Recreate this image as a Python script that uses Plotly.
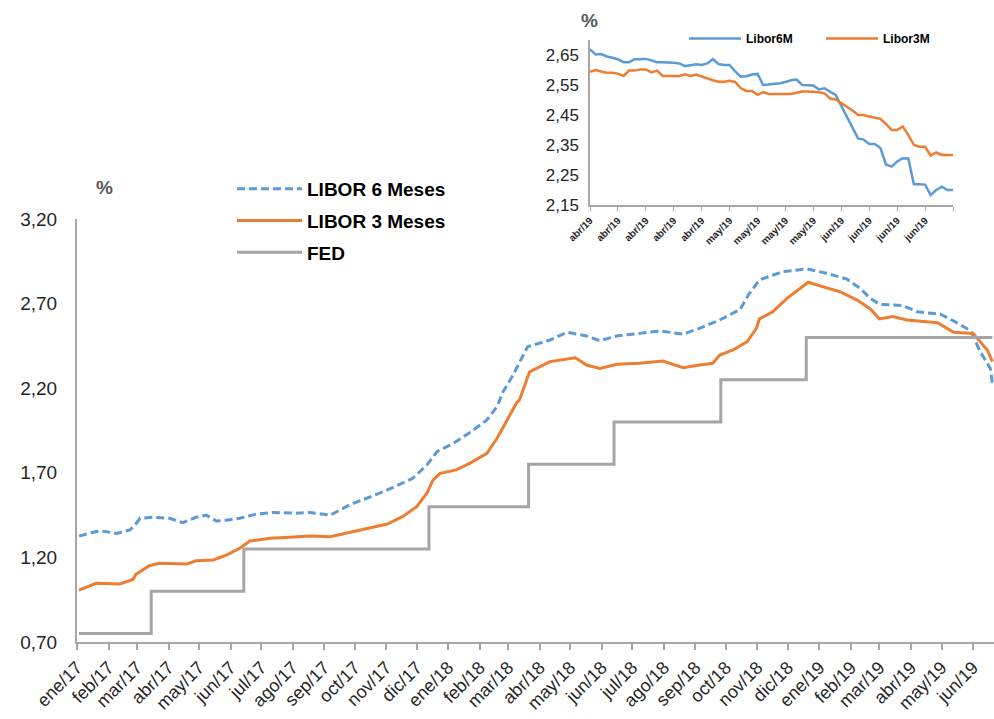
import plotly.graph_objects as go

# ---------------- main chart data ----------------
libor6_dates = ["2017-01-03","2017-01-23","2017-02-09","2017-02-22","2017-02-27","2017-03-04","2017-03-16",
    "2017-04-02","2017-04-15","2017-04-28","2017-05-08","2017-05-18","2017-05-28","2017-06-10","2017-06-26",
    "2017-07-13","2017-08-05","2017-08-18","2017-09-07","2017-09-26","2017-10-29","2017-11-27","2017-12-11",
    "2017-12-21","2018-01-06","2018-01-22","2018-02-08","2018-02-18","2018-02-24","2018-03-05","2018-03-20",
    "2018-04-11","2018-04-28","2018-05-17","2018-05-30","2018-06-16","2018-07-08","2018-07-28","2018-08-20",
    "2018-09-05","2018-09-25","2018-10-15","2018-10-23","2018-11-03","2018-11-26","2018-12-20","2019-01-08",
    "2019-01-28","2019-02-10","2019-02-20","2019-03-01","2019-03-24","2019-04-07","2019-04-30","2019-05-17",
    "2019-05-30","2019-06-08","2019-06-18","2019-06-20"]
libor6_values = [1.326,1.358,1.342,1.362,1.391,1.431,1.437,
    1.431,1.405,1.437,1.450,1.415,1.420,1.431,1.456,
    1.466,1.461,1.466,1.450,1.510,1.588,1.667,1.746,
    1.825,1.874,1.937,2.012,2.091,2.180,2.270,2.445,
    2.485,2.530,2.509,2.481,2.509,2.524,2.538,2.520,
    2.554,2.603,2.666,2.751,2.840,2.889,2.905,2.879,
    2.845,2.790,2.731,2.696,2.688,2.652,2.637,2.584,
    2.538,2.416,2.317,2.229]

libor3_dates = ["2017-01-03","2017-01-20","2017-02-12","2017-02-25","2017-02-28","2017-03-13","2017-03-23",
    "2017-04-19","2017-04-28","2017-05-15","2017-05-28","2017-06-10","2017-06-20","2017-07-10","2017-07-29",
    "2017-08-18","2017-09-07","2017-09-19","2017-10-13","2017-11-02","2017-11-17","2017-12-01","2017-12-11",
    "2017-12-17","2017-12-24","2018-01-09","2018-01-22","2018-02-08","2018-02-18","2018-02-28","2018-03-09",
    "2018-03-12","2018-03-19","2018-03-22","2018-04-11","2018-04-28","2018-05-06","2018-05-17","2018-05-30",
    "2018-06-16","2018-07-08","2018-07-31","2018-08-20","2018-09-05","2018-09-18","2018-09-25","2018-10-08",
    "2018-10-22","2018-10-31","2018-11-03","2018-11-16","2018-11-30","2018-12-13","2018-12-21","2019-01-04",
    "2019-01-21","2019-02-07","2019-02-20","2019-03-01","2019-03-14","2019-03-28","2019-04-10","2019-04-27",
    "2019-05-13","2019-06-01","2019-06-15","2019-06-20"]
libor3_values = [1.007,1.047,1.043,1.070,1.100,1.151,1.165,
    1.161,1.180,1.185,1.214,1.254,1.297,1.313,1.319,
    1.326,1.322,1.338,1.368,1.397,1.441,1.500,1.579,
    1.657,1.697,1.717,1.756,1.815,1.904,2.012,2.111,
    2.130,2.239,2.297,2.357,2.373,2.380,2.337,2.317,
    2.341,2.347,2.361,2.321,2.337,2.347,2.396,2.426,
    2.475,2.554,2.610,2.652,2.731,2.790,2.826,2.800,
    2.770,2.721,2.668,2.609,2.623,2.603,2.597,2.587,
    2.530,2.524,2.426,2.357]

fed_dates = ["2017-01-03","2017-03-15","2017-06-14","2017-12-13","2018-03-21","2018-06-13",
             "2018-09-26","2018-12-19","2019-06-20"]
fed_values = [0.75,1.00,1.25,1.50,1.75,2.00,2.25,2.50,2.50]

month_ticks = ["2017-01-01","2017-02-01","2017-03-01","2017-04-01","2017-05-01","2017-06-01",
    "2017-07-01","2017-08-01","2017-09-01","2017-10-01","2017-11-01","2017-12-01",
    "2018-01-01","2018-02-01","2018-03-01","2018-04-01","2018-05-01","2018-06-01",
    "2018-07-01","2018-08-01","2018-09-01","2018-10-01","2018-11-01","2018-12-01",
    "2019-01-01","2019-02-01","2019-03-01","2019-04-01","2019-05-01","2019-06-01"]
month_labels = ["ene/17","feb/17","mar/17","abr/17","may/17","jun/17","jul/17","ago/17","sep/17",
    "oct/17","nov/17","dic/17","ene/18","feb/18","mar/18","abr/18","may/18","jun/18","jul/18",
    "ago/18","sep/18","oct/18","nov/18","dic/18","ene/19","feb/19","mar/19","abr/19","may/19","jun/19"]
y_ticks = [0.70, 1.20, 1.70, 2.20, 2.70, 3.20]

# ---------------- inset data ----------------
inset_index = list(range(66))
inset_libor6 = [2.669,2.652,2.653,2.645,2.641,2.636,2.626,2.626,2.636,2.637,
    2.637,2.632,2.626,2.626,2.626,2.624,2.622,2.613,2.616,2.619,
    2.617,2.622,2.636,2.620,2.617,2.617,2.595,2.578,2.579,2.585,
    2.587,2.550,2.552,2.553,2.556,2.560,2.566,2.568,2.550,2.549,
    2.548,2.535,2.539,2.527,2.517,2.480,2.445,2.405,2.372,2.368,
    2.353,2.353,2.340,2.285,2.278,2.295,2.306,2.305,2.219,2.219,
    2.218,2.183,2.200,2.211,2.200,2.200]
inset_libor3 = [2.594,2.600,2.595,2.591,2.591,2.588,2.580,2.598,2.598,2.602,
    2.602,2.592,2.598,2.580,2.580,2.580,2.580,2.586,2.580,2.585,
    2.578,2.572,2.566,2.561,2.561,2.564,2.560,2.539,2.530,2.530,
    2.517,2.526,2.520,2.520,2.520,2.520,2.520,2.524,2.528,2.528,
    2.528,2.526,2.522,2.505,2.502,2.490,2.478,2.465,2.450,2.450,
    2.445,2.440,2.437,2.420,2.400,2.400,2.412,2.383,2.350,2.344,
    2.344,2.315,2.325,2.317,2.317,2.317]
inset_tickvals = list(range(0, 66, 5))
inset_ticktext = ["abr/19"]*5 + ["may/19"]*4 + ["jun/19"]*4 + [""]
inset_yticks = [2.15, 2.25, 2.35, 2.45, 2.55, 2.65]

BLUE = "#5B9BD5"
ORANGE = "#ED7D31"
GREY = "#A5A5A5"
AXIS = "#A6A6A6"
FONT = "Liberation Sans, Arial, sans-serif"
W, H = 994, 719

fig = go.Figure()
fig.add_trace(go.Scatter(x=libor6_dates, y=libor6_values, mode="lines", name="LIBOR 6 Meses",
    line=dict(color=BLUE, width=3, dash="8px,4px"), legend="legend", legendgroup="a"))
fig.add_trace(go.Scatter(x=libor3_dates, y=libor3_values, mode="lines", name="LIBOR 3 Meses",
    line=dict(color=ORANGE, width=3), legend="legend", legendgroup="b"))
fig.add_trace(go.Scatter(x=fed_dates, y=fed_values, mode="lines", name="FED",
    line=dict(color=GREY, width=3, shape="hv"), legend="legend", legendgroup="c"))

fig.add_trace(go.Scatter(x=inset_index, y=inset_libor6, mode="lines", name="Libor6M",
    line=dict(color=BLUE, width=2.5), xaxis="x2", yaxis="y2", legend="legend2"))
fig.add_trace(go.Scatter(x=inset_index, y=inset_libor3, mode="lines", name="Libor3M",
    line=dict(color=ORANGE, width=2.5), xaxis="x2", yaxis="y2", legend="legend2"))

fig.update_layout(
    width=W, height=H, margin=dict(l=0, r=0, t=0, b=0, autoexpand=False),
    paper_bgcolor="white", plot_bgcolor="white",
    separators=",.",
    font=dict(family=FONT, color="#262626"),
    xaxis=dict(domain=[77/W, 1.0], type="date", range=["2017-01-01", "2019-06-21 14:00"],
               tickvals=month_ticks, ticktext=month_labels, tickangle=-45,
               tickfont=dict(size=18, color="#262626"), ticks="outside", ticklen=6,
               tickcolor=AXIS, tickwidth=1.5, showline=True, linecolor=AXIS, linewidth=2,
               showgrid=False, zeroline=False, anchor="y", automargin=False),
    yaxis=dict(domain=[(H-642)/H, (H-219)/H], range=[0.70, 3.20], tickvals=y_ticks,
               tickformat=".2f", tickfont=dict(size=19, color="#262626"),
               showline=True, linecolor=AXIS, linewidth=2, showgrid=False, zeroline=False,
               ticks="", ticklabelstandoff=14, anchor="x", automargin=False),
    xaxis2=dict(domain=[590/W, 953/W], range=[0, 65], tickvals=inset_tickvals,
                ticktext=inset_ticktext, tickangle=-45,
                tickfont=dict(size=10, color="#262626", family=FONT, weight="bold"),
                ticks="outside", ticklen=4, tickcolor=AXIS, showline=True, linecolor=AXIS,
                linewidth=1.5, showgrid=False, zeroline=False, anchor="y2", automargin=False),
    yaxis2=dict(domain=[(H-205)/H, (H-40)/H], range=[2.15, 2.70], tickvals=inset_yticks,
                tickformat=".2f", tickfont=dict(size=17, color="#262626"),
                showline=True, linecolor=AXIS, linewidth=1.5, showgrid=False, zeroline=False,
                ticks="", ticklabelstandoff=6, anchor="x2", automargin=False),
    legend=dict(x=232/W, y=1-170/H, xanchor="left", yanchor="top",
                font=dict(size=19, color="#000000", family=FONT, weight="bold"),
                bgcolor="rgba(0,0,0,0)", itemwidth=65, traceorder="grouped",
                tracegroupgap=4),
    legend2=dict(x=684/W, y=1-24/H, xanchor="left", yanchor="top", orientation="h",
                 font=dict(size=12, color="#000000", family=FONT, weight="bold"),
                 bgcolor="rgba(0,0,0,0)", itemwidth=52, entrywidth=70,
                 entrywidthmode="pixels"),
    showlegend=True,
)

fig.add_annotation(text="%", x=104/W, y=1-187/H, xref="paper", yref="paper",
                   xanchor="center", yanchor="middle",
                   showarrow=False, font=dict(size=19, color="#595959", family=FONT, weight="bold"))
fig.add_annotation(text="%", x=589/W, y=1-20/H, xref="paper", yref="paper",
                   xanchor="center", yanchor="middle",
                   showarrow=False, font=dict(size=19, color="#595959", family=FONT, weight="bold"))

fig.write_html("out.html", post_script="document.body.style.margin='0';",
               config={"displayModeBar": False})
